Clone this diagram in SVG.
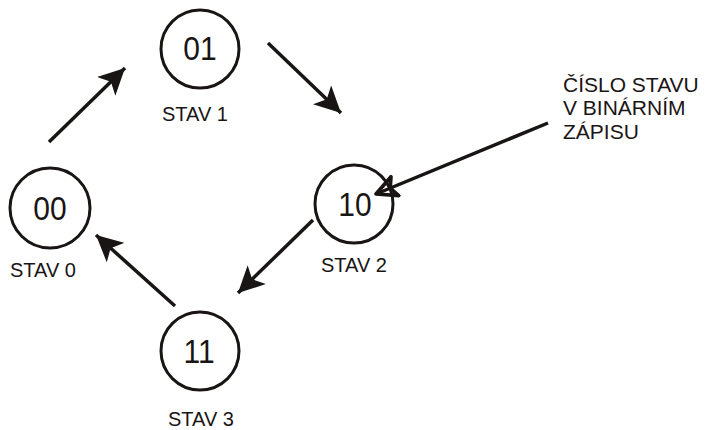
<svg xmlns="http://www.w3.org/2000/svg" width="707" height="430" viewBox="0 0 707 430">
<style>
.node{fill:none;stroke:#1a1515;stroke-width:3}
.num{font-family:"Liberation Sans",Arial,sans-serif;font-size:30px;fill:#1a1515;text-anchor:middle}
.lbl{font-family:"Liberation Sans",Arial,sans-serif;font-size:20px;fill:#1a1515}
.edge{stroke:#1a1515;stroke-width:3.5;fill:none}
.note{font-family:"Liberation Sans",Arial,sans-serif;font-size:21px;fill:#1a1515}
</style>
<defs>
<marker id="ah" viewBox="0 0 10 10" refX="10" refY="5" markerWidth="7.5" markerHeight="7.5" markerUnits="strokeWidth" orient="auto">
<path d="M0,0 L10,5 L0,10 L2.5,5 Z" fill="#1a1515"/>
</marker>
<marker id="ah2" viewBox="0 0 12 12" refX="11" refY="6" markerWidth="7" markerHeight="7" markerUnits="strokeWidth" orient="auto">
<path d="M1,1 L11,6 L1,11 L3.5,6 Z" fill="none" stroke="#1a1515" stroke-width="1.8" stroke-linejoin="round"/>
</marker>
</defs>
<g id="connectors">
<line class="edge" x1="49" y1="142" x2="125" y2="68" marker-end="url(#ah)"/>
<line class="edge" x1="268" y1="43" x2="341" y2="113" marker-end="url(#ah)"/>
<line class="edge" x1="313" y1="220" x2="238" y2="293" marker-end="url(#ah)"/>
<line class="edge" x1="175" y1="306" x2="96" y2="235" marker-end="url(#ah)"/>
<line class="edge" x1="548" y1="123" x2="376" y2="194" stroke-width="3" marker-end="url(#ah2)"/>
</g>
<g id="stav0">
<circle class="node" cx="50" cy="208" r="40"/>
<text class="num" transform="translate(50,220) scale(1,1.12)">00</text>
<text class="lbl" x="10" y="277">STAV 0</text>
</g>
<g id="stav1">
<circle class="node" cx="200" cy="49" r="39"/>
<text class="num" transform="translate(200,60) scale(1,1.12)">01</text>
<text class="lbl" x="162" y="121">STAV 1</text>
</g>
<g id="stav2">
<circle class="node" cx="354" cy="204" r="39"/>
<text class="num" transform="translate(355,216) scale(1,1.12)">10</text>
<text class="lbl" x="321" y="272">STAV 2</text>
</g>
<g id="stav3">
<circle class="node" cx="200" cy="351" r="39"/>
<text class="num" transform="translate(199,363) scale(1,1.12)">11</text>
<text class="lbl" x="168" y="426">STAV 3</text>
</g>
<g id="note">
<text class="note" x="563" y="92">ČÍSLO STAVU</text>
<text class="note" x="563" y="115">V BINÁRNÍM</text>
<text class="note" x="563" y="139">ZÁPISU</text>
</g>
</svg>
